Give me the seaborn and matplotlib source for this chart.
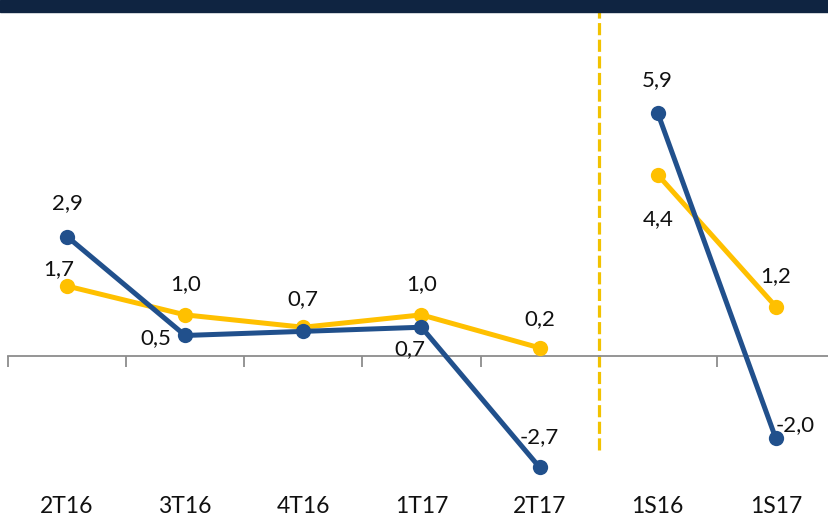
import matplotlib
matplotlib.use("Agg")
import matplotlib.pyplot as plt
import seaborn as sns
import pandas as pd
from matplotlib.patches import Rectangle

categories = ["2T16", "3T16", "4T16", "1T17", "2T17", "1S16", "1S17"]
segments = [0, 0, 0, 0, 0, 1, 1]
blue_values = [2.9, 0.5, 0.6, 0.7, -2.7, 5.9, -2.0]
yellow_values = [1.7, 1.0, 0.7, 1.0, 0.2, 4.4, 1.2]
blue_labels = ["2,9", "0,5", "", "0,7", "-2,7", "5,9", "-2,0"]
yellow_labels = ["1,7", "1,0", "0,7", "1,0", "0,2", "4,4", "1,2"]

# label offsets in points (style only)
blue_offsets = [(0, 24), (-21, -2), (0, 0), (-8, -16), (0, 22), (0, 24), (14, 10)]
yellow_offsets = [(-6, 12), (0, 22), (0, 20), (0, 22), (0, 21), (0, -32), (0, 22)]

BLUE = "#21508C"
YELLOW = "#FFC000"
NAVY = "#0F2441"

sns.set_theme(style="white")
plt.rcParams["font.family"] = ["Lato", "DejaVu Sans"]

df = pd.DataFrame({
    "pos": list(range(len(categories))) * 2,
    "value": blue_values + yellow_values,
    "series": ["blue"] * len(categories) + ["yellow"] * len(categories),
    "segment": segments * 2,
})

fig = plt.figure(figsize=(8.29, 5.27), dpi=100)
W, H = 829, 527
ax_left, ax_top, ax_bottom = 8, 12, 490
ax = fig.add_axes([ax_left / W, 1 - ax_bottom / H, 1 - ax_left / W, (ax_bottom - ax_top) / H])

fig.patches.append(Rectangle((0, 1 - 12 / H), 1, 12 / H, transform=fig.transFigure,
                             color=NAVY, zorder=10))

for series, color, z in [("yellow", YELLOW, 3), ("blue", BLUE, 4)]:
    for seg in sorted(set(segments)):
        d = df[(df.series == series) & (df.segment == seg)]
        sns.lineplot(data=d, x="pos", y="value", ax=ax, color=color, lw=3.6,
                     marker="o", markersize=11, markeredgewidth=0,
                     zorder=z, legend=False)

for vals, labs, offs in [(blue_values, blue_labels, blue_offsets),
                         (yellow_values, yellow_labels, yellow_offsets)]:
    for i, (v, lab, off) in enumerate(zip(vals, labs, offs)):
        if lab:
            ax.annotate(lab, (i, v), xytext=off, textcoords="offset points",
                        ha="center", va="center", fontsize=16, color="#111111", zorder=6)

ax.set_xlim(-0.5, 6.45)
ax.set_ylim(-3.25, 8.35)

for s in ["top", "left", "right"]:
    ax.spines[s].set_visible(False)
ax.spines["bottom"].set_position(("data", 0))
ax.spines["bottom"].set_color("#8C8C8C")
ax.spines["bottom"].set_linewidth(1.3)
ax.set_yticks([])

ax.set_xticks([i - 0.5 for i in range(len(categories))])
ax.set_xticklabels([])
ax.tick_params(axis="x", which="major", length=8, width=1.3, color="#8C8C8C",
               direction="out", bottom=True)
ax.set_xticks(range(len(categories)), minor=True)
ax.set_xticklabels(categories, minor=True, fontsize=16.5, color="#111111")
ax.tick_params(axis="x", which="minor", length=0, pad=101)
ax.set_xlabel("")
ax.set_ylabel("")

ax.axvline(4.5, ymin=(ax_bottom - 450) / (ax_bottom - ax_top), ymax=1.0,
           color="#F2C200", lw=2.3, linestyle=(0, (3.8, 1.4)), zorder=2)

fig.savefig("out.png", dpi=100)
